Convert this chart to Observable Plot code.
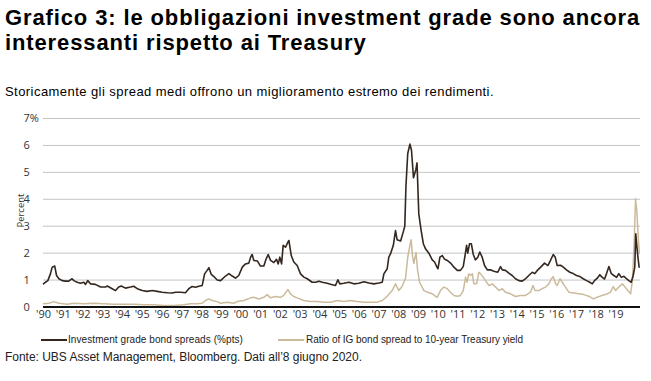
<!DOCTYPE html>
<html><head><meta charset="utf-8">
<script src="https://cdn.jsdelivr.net/npm/d3@7"></script>
<script src="https://cdn.jsdelivr.net/npm/@observablehq/plot@0.6"></script>
<style>
body{margin:0;background:#fff;width:651px;height:381px;position:relative;overflow:hidden;font-family:"Liberation Sans",Arial,sans-serif;color:#000;}
.t{position:absolute;left:5px;white-space:nowrap;}
#title1,#title2{font-weight:bold;font-size:22px;line-height:25px;}
#title1{top:5px;} #title2{top:30px;}
#subtitle{top:84px;font-size:13px;line-height:15px;}
#chart{position:absolute;left:0;top:108px;}
.sw{position:absolute;height:2px;width:26px;top:339px;}
.lt{position:absolute;top:333px;font-family:"Liberation Sans",Arial,sans-serif;font-size:10px;line-height:13px;color:#222;white-space:nowrap;}
#source{top:349.5px;font-size:12px;line-height:14px;color:#222;}
</style></head>
<body>
<div id="title1" class="t">Grafico 3: le obbligazioni investment grade sono ancora</div>
<div id="title2" class="t">interessanti rispetto ai Treasury</div>
<div id="subtitle" class="t">Storicamente gli spread medi offrono un miglioramento estremo dei rendimenti.</div>
<div id="chart"></div>
<div class="sw" style="left:41px;background:#33271f"></div>
<div id="leg1" class="lt" style="left:68px">Investment grade bond spreads (%pts)</div>
<div class="sw" style="left:278px;background:#cbbb9c"></div>
<div id="leg2" class="lt" style="left:306px">Ratio of IG bond spread to 10-year Treasury yield</div>
<div id="source" class="t">Fonte: UBS Asset Management, Bloomberg. Dati all’8 giugno 2020.</div>
<script>
const spreadYears = [1990.00,1990.10,1990.22,1990.35,1990.44,1990.57,1990.66,1990.78,1990.95,1991.11,1991.28,1991.45,1991.53,1991.71,1991.87,1992.04,1992.13,1992.24,1992.38,1992.63,1992.89,1993.14,1993.23,1993.48,1993.65,1993.81,1993.94,1994.15,1994.41,1994.57,1994.75,1995.00,1995.25,1995.51,1995.76,1996.01,1996.27,1996.52,1996.69,1996.95,1997.19,1997.36,1997.53,1997.70,1997.87,1998.04,1998.16,1998.29,1998.38,1998.50,1998.63,1998.80,1998.97,1999.22,1999.39,1999.56,1999.73,1999.89,2000.07,2000.23,2000.40,2000.49,2000.57,2000.65,2000.83,2000.99,2001.16,2001.28,2001.38,2001.50,2001.67,2001.80,2001.89,2001.97,2002.06,2002.14,2002.26,2002.38,2002.43,2002.55,2002.68,2002.85,2003.02,2003.19,2003.36,2003.61,2003.78,2003.95,2004.12,2004.37,2004.63,2004.79,2004.91,2005.01,2005.21,2005.47,2005.72,2005.97,2006.23,2006.48,2006.73,2006.99,2007.16,2007.24,2007.41,2007.49,2007.58,2007.72,2007.83,2007.91,2008.09,2008.22,2008.30,2008.36,2008.45,2008.56,2008.64,2008.74,2008.86,2008.92,2009.01,2009.13,2009.24,2009.35,2009.52,2009.69,2009.81,2009.93,2009.98,2010.08,2010.20,2010.31,2010.45,2010.62,2010.79,2010.96,2011.12,2011.26,2011.34,2011.43,2011.49,2011.58,2011.67,2011.77,2011.88,2012.00,2012.10,2012.22,2012.34,2012.48,2012.64,2012.81,2013.01,2013.15,2013.24,2013.40,2013.57,2013.74,2013.91,2014.08,2014.25,2014.42,2014.58,2014.76,2014.89,2015.04,2015.21,2015.38,2015.55,2015.68,2015.82,2015.92,2016.02,2016.19,2016.33,2016.49,2016.66,2016.83,2017.00,2017.17,2017.34,2017.51,2017.67,2017.80,2017.91,2018.05,2018.18,2018.30,2018.42,2018.52,2018.64,2018.76,2018.89,2019.03,2019.14,2019.27,2019.40,2019.53,2019.65,2019.77,2019.87,2019.95,2020.00,2020.05,2020.11,2020.17];
const spreadValues = [0.86,0.92,0.98,1.23,1.48,1.52,1.17,1.05,0.98,0.96,0.96,1.05,0.98,0.92,0.88,0.92,0.84,0.98,0.86,0.84,0.74,0.74,0.78,0.68,0.61,0.74,0.78,0.70,0.74,0.77,0.68,0.61,0.58,0.61,0.58,0.55,0.53,0.52,0.55,0.55,0.53,0.68,0.76,0.73,0.77,0.80,1.23,1.36,1.46,1.21,1.13,1.00,0.98,1.15,1.24,1.15,1.07,1.17,1.48,1.60,1.63,1.85,1.95,1.73,1.71,1.52,1.52,1.79,1.95,1.73,1.65,1.77,1.60,1.85,1.60,2.29,2.22,2.41,2.47,1.91,1.67,1.54,1.23,1.11,1.05,0.92,0.92,0.96,0.92,0.88,0.83,0.80,1.01,0.86,0.88,0.92,0.86,0.88,0.94,0.89,0.86,0.89,0.92,1.23,1.42,1.85,1.98,2.29,2.84,2.50,2.45,2.78,3.00,4.50,5.70,6.05,5.82,4.80,5.10,5.35,3.46,2.84,2.35,2.16,2.00,1.75,1.67,1.48,1.42,1.85,1.91,1.78,1.73,1.63,1.48,1.36,1.36,1.50,1.85,2.29,2.00,2.35,2.35,1.95,1.75,1.85,2.04,1.85,1.54,1.38,1.38,1.33,1.29,1.50,1.38,1.36,1.26,1.17,1.05,0.98,0.96,1.05,1.17,1.29,1.24,1.38,1.50,1.63,1.54,1.73,1.95,1.85,1.54,1.55,1.48,1.38,1.29,1.24,1.17,1.13,1.05,0.98,0.92,0.86,0.98,1.07,1.20,1.10,1.04,1.24,1.50,1.24,1.17,1.10,1.24,1.10,1.14,1.05,0.98,0.92,1.17,1.48,2.72,2.30,1.85,1.48];
const ratioYears = [1990.00,1990.27,1990.52,1990.78,1991.20,1991.53,1992.04,1992.55,1993.05,1993.56,1994.07,1994.57,1995.08,1995.59,1996.09,1996.60,1997.11,1997.45,1997.79,1998.04,1998.21,1998.37,1998.55,1998.80,1998.97,1999.31,1999.64,1999.81,2000.15,2000.49,2000.65,2000.91,2001.16,2001.33,2001.50,2001.75,2002.01,2002.17,2002.38,2002.51,2002.68,2002.85,2003.19,2003.53,2003.87,2004.20,2004.54,2004.88,2005.21,2005.55,2005.89,2006.23,2006.57,2006.90,2007.16,2007.41,2007.66,2007.83,2008.00,2008.17,2008.34,2008.45,2008.51,2008.62,2008.69,2008.76,2008.87,2008.95,2009.05,2009.27,2009.44,2009.69,2009.94,2010.11,2010.28,2010.45,2010.62,2010.79,2010.96,2011.12,2011.26,2011.38,2011.46,2011.54,2011.63,2011.72,2011.80,2011.94,2012.05,2012.14,2012.27,2012.39,2012.56,2012.73,2012.90,2013.07,2013.24,2013.40,2013.66,2013.91,2014.16,2014.42,2014.67,2014.79,2014.89,2015.09,2015.26,2015.43,2015.60,2015.73,2015.82,2015.94,2016.02,2016.16,2016.28,2016.44,2016.61,2016.86,2017.12,2017.37,2017.62,2017.85,2018.05,2018.30,2018.56,2018.72,2018.86,2018.98,2019.14,2019.32,2019.45,2019.60,2019.74,2019.83,2019.91,2019.99,2020.05,2020.13,2020.18];
const ratioValues = [0.12,0.14,0.20,0.14,0.10,0.14,0.12,0.14,0.12,0.10,0.10,0.10,0.08,0.08,0.06,0.06,0.08,0.12,0.12,0.14,0.24,0.30,0.24,0.20,0.14,0.18,0.14,0.20,0.24,0.34,0.36,0.30,0.36,0.46,0.34,0.39,0.36,0.43,0.65,0.49,0.39,0.34,0.24,0.20,0.20,0.18,0.18,0.24,0.20,0.24,0.20,0.18,0.18,0.18,0.24,0.40,0.61,0.86,0.61,0.77,1.08,1.85,2.10,2.50,1.91,1.62,2.02,1.36,0.92,0.61,0.55,0.49,0.36,0.61,0.74,0.68,0.55,0.43,0.40,0.43,0.61,1.11,0.92,1.23,1.17,1.23,0.86,0.86,1.29,1.23,1.11,0.98,0.80,0.86,0.74,0.61,0.68,0.55,0.49,0.39,0.43,0.43,0.55,0.80,0.61,0.61,0.68,0.74,0.86,1.05,1.13,0.86,0.80,1.05,0.92,0.74,0.55,0.52,0.49,0.46,0.40,0.30,0.36,0.43,0.49,0.55,0.76,0.61,0.74,0.86,0.74,0.61,0.49,0.98,2.22,4.02,3.59,2.53,2.00];
const yearTicks = d3.range(1990, 2020);
const percentTicks = [0,1,2,3,4,5,6,7];

const spread = spreadYears.map((t,i)=>({t, v: spreadValues[i]}));
const ratio = ratioYears.map((t,i)=>({t, v: ratioValues[i]}));

const chart = Plot.plot({
  width: 651, height: 215,
  marginLeft: 43, marginRight: 11, marginTop: 10, marginBottom: 16.5,
  style: {fontFamily: "'Open Sans', sans-serif", fontSize: "11px", background: "transparent"},
  x: {domain: [1990, 2020.24]},
  y: {domain: [0, 7]},
  marks: [
    Plot.gridY(percentTicks, {stroke: "#c4c4c4", strokeOpacity: 1}),
    Plot.axisY(percentTicks, {tickSize: 0, textAnchor: "start", dx: -11, fill: "#333", label: null,
      tickFormat: d => d === 7 ? "7%" : String(d)}),
    Plot.text([2.95], {y: d => d, frameAnchor: "left", dx: -23, rotate: -90, text: () => "Percent", fontSize: 9.5, fill: "#333"}),
    Plot.line(ratio, {x: "t", y: "v", stroke: "#cbbb9c", strokeWidth: 1.5}),
    Plot.line(spread, {x: "t", y: "v", stroke: "#33271f", strokeWidth: 1.6}),
    Plot.ruleY([0], {stroke: "#111", strokeWidth: 2}),
    Plot.axisX(yearTicks, {tickSize: 0, tickPadding: 3, fill: "#333", label: null,
      tickFormat: d => "'" + String(d).slice(2)})
  ]
});
document.getElementById("chart").appendChild(chart);

// stretch text horizontally (via letter-spacing) to the widths measured on the reference
function fit(id, target) {
  const el = document.getElementById(id);
  el.style.letterSpacing = "0px";
  const w = el.getBoundingClientRect().width;
  const ls = (target - w) / el.textContent.length;
  el.style.letterSpacing = ls + "px";
  return ls;
}
const tls = fit("title1", 635);
document.getElementById("title2").style.letterSpacing = tls + "px";
fit("subtitle", 489);
fit("source", 357);
fit("leg1", 175);
fit("leg2", 217);
</script>
</body></html>
